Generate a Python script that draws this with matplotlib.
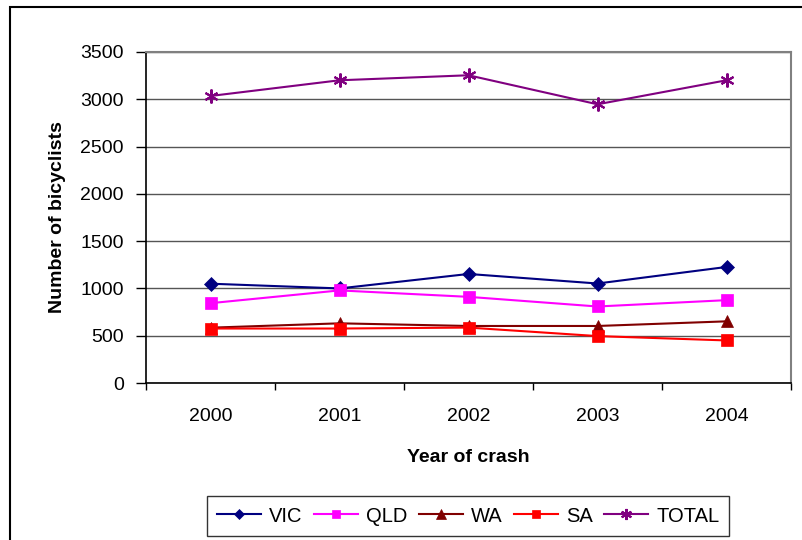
import matplotlib
matplotlib.use("Agg")
import matplotlib.pyplot as plt
from matplotlib.patches import Rectangle
import numpy as np

plt.rcParams['font.family'] = ['Liberation Sans', 'DejaVu Sans']

years = ["2000", "2001", "2002", "2003", "2004"]
vic = [1050, 1000, 1153, 1052, 1227]
qld = [844, 979, 911, 809, 876]
wa = [585, 631, 603, 603, 652]
sa = [576, 576, 586, 496, 450]
total = [3035, 3201, 3254, 2947, 3201]

series = [
    ("VIC", vic, "#000080", "D", 7),
    ("QLD", qld, "#FF00FF", "s", 8),
    ("WA", wa, "#800000", "^", 9),
    ("SA", sa, "#FF0000", "s", 8),
    ("TOTAL", total, "#800080", (6, 2, 0), 10),
]

fig = plt.figure(figsize=(8.02, 5.40), dpi=100)
fig.patches.append(Rectangle((10 / 802, -0.1), 1.2, (540 - 7.5) / 540 + 0.1,
                             transform=fig.transFigure, fill=False,
                             edgecolor="black", linewidth=1.5))

ax = fig.add_axes([146 / 802, 1 - 383 / 540, (791 - 146) / 802, (383 - 52) / 540])

x = np.arange(len(years)) + 0.5
for name, vals, color, marker, ms in series:
    ax.plot(x, vals, color=color, marker=marker, markersize=ms, linewidth=1.5,
            markeredgewidth=1.5 if marker == (6, 2, 0) else 0.5,
            markeredgecolor=color, label=name, zorder=3)

ax.set_xlim(0, len(years))
ax.set_ylim(0, 3500)
ax.set_yticks(np.arange(0, 3501, 500))
ax.yaxis.grid(True, color="#555555", linewidth=1)
ax.set_axisbelow(True)

ax.set_xticks(x)
ax.set_xticklabels(years)
ax.set_xticks(np.arange(0, len(years) + 1), minor=True)
ax.tick_params(axis="x", which="major", length=0, pad=18, labelsize=14)
ax.tick_params(axis="x", which="minor", length=5, width=1, direction="out")
ax.tick_params(axis="y", length=7, width=1, direction="out", pad=9, labelsize=14)

for side in ("top", "right"):
    ax.spines[side].set_color("#808080")
    ax.spines[side].set_linewidth(1.5)
for side in ("left", "bottom"):
    ax.spines[side].set_color("black")
    ax.spines[side].set_linewidth(1.2)

ax.set_ylabel("Number of bicyclists", fontsize=14, fontweight="bold", labelpad=10)
ax.set_xlabel("Year of crash", fontsize=14, fontweight="bold", labelpad=17)

leg = fig.legend(loc="center", bbox_to_anchor=(468 / 802, 1 - 516 / 540),
                 bbox_transform=fig.transFigure, ncol=5, fontsize=14.5,
                 frameon=True, fancybox=False, edgecolor="black",
                 handlelength=2.2, handletextpad=0.4, columnspacing=0.55,
                 borderpad=0.5, markerscale=0.8)
leg.get_frame().set_linewidth(1)

fig.savefig("out.png", dpi=100)
